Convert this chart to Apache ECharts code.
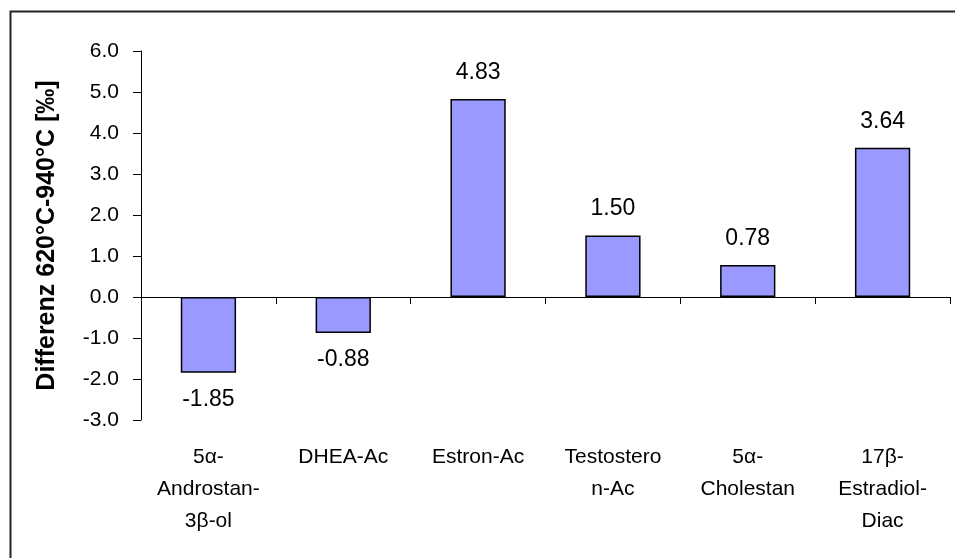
<!DOCTYPE html>
<html>
<head>
<meta charset="utf-8">
<script src="https://cdn.jsdelivr.net/npm/echarts@6/dist/echarts.min.js"></script>
<style>
  html, body { margin: 0; padding: 0; background: #fff; }
  #main { width: 955px; height: 558px; }
</style>
</head>
<body>
<div id="main"></div>
<script>
// Kategorien und Werte
var categories = ['5α-\nAndrostan-\n3β-ol', 'DHEA-Ac', 'Estron-Ac', 'Testostero\nn-Ac', '5α-\nCholestan', '17β-\nEstradiol-\nDiac'];
var diffValues = [-1.85, -0.88, 4.83, 1.50, 0.78, 3.64];
var yMin = -3, yMax = 6, yStep = 1;
var yName = 'Differenz 620°C-940°C [‰]';

var font = '"Liberation Sans", Arial, sans-serif';

// negative Balken: Beschriftung unten
var barData = diffValues.map(function (v) {
    return {
        value: v,
        label: { position: v < 0 ? 'bottom' : 'top' }
    };
});

var chart = echarts.init(document.getElementById('main'));
chart.setOption({
    animation: false,
    backgroundColor: '#fff',
    graphic: [{
        type: 'rect',
        left: 8, top: 9,
        shape: { width: 1000, height: 600 },
        style: { fill: 'none', stroke: '#222', lineWidth: 2 },
        silent: true
    }],
    grid: { left: 141, top: 51, right: 5, bottom: 138 },
    xAxis: [{
        // Achse auf der Nulllinie, ohne Beschriftung
        type: 'category',
        data: categories,
        axisLine: { onZero: true, lineStyle: { color: '#000', width: 1 } },
        axisTick: { show: true, length: 7, lineStyle: { color: '#000' } },
        axisLabel: { show: false },
        splitLine: { show: false }
    }, {
        // nur Beschriftung unten
        type: 'category',
        data: categories,
        position: 'bottom',
        axisLine: { show: false, onZero: false },
        axisTick: { show: false },
        axisLabel: {
            margin: 21,
            color: '#000',
            fontSize: 21,
            fontFamily: font,
            lineHeight: 32,
            interval: 0
        }
    }],
    yAxis: {
        type: 'value',
        min: yMin,
        max: yMax,
        interval: yStep,
        name: yName,
        nameLocation: 'middle',
        nameGap: 81,
        nameTextStyle: { color: '#000', fontSize: 25, fontWeight: 'bold', fontFamily: font },
        axisLine: { show: true, lineStyle: { color: '#000', width: 1 } },
        axisTick: { show: true, length: 8, lineStyle: { color: '#000' } },
        axisLabel: {
            margin: 22,
            color: '#000',
            fontSize: 21,
            fontFamily: font,
            formatter: function (v) { return v.toFixed(1); }
        },
        splitLine: { show: false }
    },
    series: [{
        type: 'bar',
        xAxisIndex: 0,
        data: barData,
        barWidth: '41%',
        itemStyle: { color: '#9999FF', borderColor: '#000', borderWidth: 1.5 },
        label: {
            show: true,
            distance: 15,
            color: '#000',
            fontSize: 23,
            fontFamily: font,
            formatter: function (p) { return p.value.toFixed(2); }
        }
    }]
});
</script>
</body>
</html>
